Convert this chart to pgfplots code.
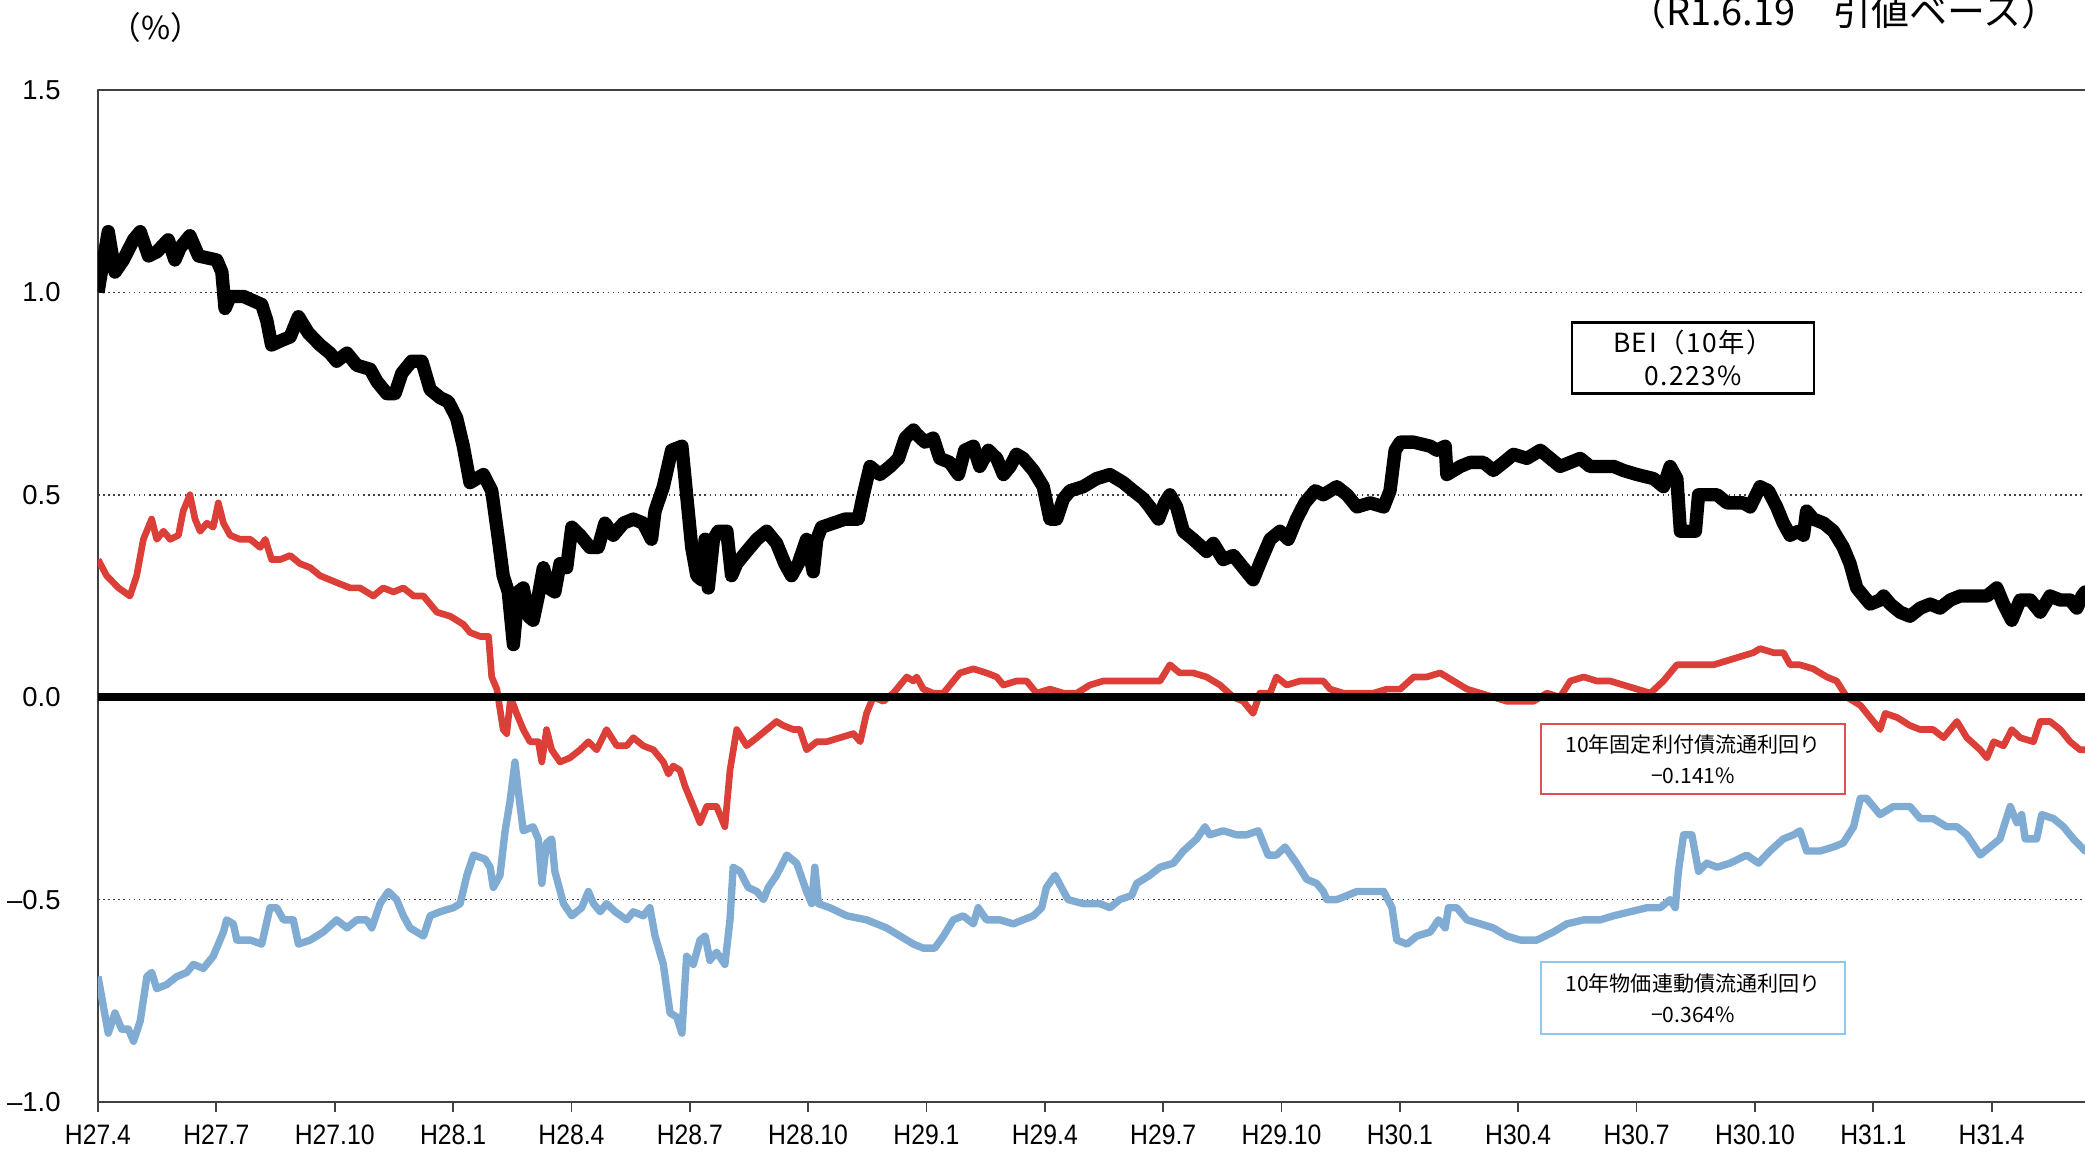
\documentclass[border=0pt]{standalone}
\usepackage{fontspec}
\usepackage{pgfplots}
\pgfplotsset{compat=1.18}
\setmainfont{Liberation Sans}
\newfontfamily\narrow[FakeStretch=0.88]{Liberation Sans}
\newfontfamily\jp{Noto Sans CJK JP}
\newfontfamily\jpw[LetterSpace=6]{Noto Sans CJK JP}
\definecolor{redl}{RGB}{220,62,56}
\definecolor{bluel}{RGB}{128,172,212}
\definecolor{boxred}{RGB}{222,80,80}
\definecolor{boxblue}{RGB}{140,200,240}
\begin{document}
\begin{tikzpicture}
\useasboundingbox (-9.8mm,-5mm) rectangle (198.7mm,110.2mm);
\begin{axis}[
  at={(0,0)}, anchor=south west,
  scale only axis, width=201.2mm, height=101.2mm,
  xmin=0, xmax=51, ymin=-1, ymax=1.5,
  xtick={0,3,...,48},
  xticklabels={H27.4,H27.7,H27.10,H28.1,H28.4,H28.7,H28.10,H29.1,H29.4,H29.7,H29.10,H30.1,H30.4,H30.7,H30.10,H31.1,H31.4},
  xtick pos=bottom,
  ytick={-1,-0.5,0,0.5,1,1.5},
  yticklabels={\textendash1.0,\textendash0.5,0.0,0.5,1.0,1.5},
  ymajorgrids,
  major grid style={black!75, line width=0.45pt, densely dotted},
  axis line style={gray!50!black, line width=0.6pt},
  tick align=outside,
  major tick length=1mm,
  ytick style={draw=none},
  xtick style={gray!50!black, line width=0.5pt},
  yticklabel style={font=\fontsize{7.8}{9}\selectfont, xshift=-1.5mm},
  xticklabel style={font=\narrow\fontsize{8}{9}\selectfont, yshift=-0.9mm, inner sep=1pt},
  line join=round,
]
% 10-year inflation-indexed bond yield
\addplot[bluel, line width=2.1pt] coordinates {
(0.00,-0.69) (0.13,-0.76) (0.26,-0.83) (0.43,-0.78) (0.60,-0.82) (0.77,-0.82) (0.90,-0.85) (1.07,-0.80) (1.24,-0.69) (1.36,-0.68) (1.49,-0.72) (1.74,-0.71) (2.00,-0.69) (2.25,-0.68) (2.42,-0.66) (2.67,-0.67) (2.92,-0.64) (3.05,-0.61) (3.18,-0.58) (3.26,-0.55) (3.43,-0.56) (3.52,-0.60) (3.86,-0.60) (4.15,-0.61) (4.36,-0.52) (4.53,-0.52) (4.70,-0.55) (4.95,-0.55) (5.08,-0.61) (5.38,-0.60) (5.71,-0.58) (6.05,-0.55) (6.31,-0.57) (6.56,-0.55) (6.81,-0.55) (6.94,-0.57) (7.15,-0.51) (7.36,-0.48) (7.57,-0.50) (7.74,-0.54) (7.91,-0.57) (8.25,-0.59) (8.42,-0.54) (8.67,-0.53) (9.01,-0.52) (9.18,-0.51) (9.35,-0.44) (9.52,-0.39) (9.81,-0.40) (9.94,-0.42) (10.02,-0.47) (10.19,-0.44) (10.32,-0.33) (10.44,-0.26) (10.57,-0.16) (10.65,-0.23) (10.78,-0.33) (11.03,-0.32) (11.16,-0.35) (11.25,-0.46) (11.37,-0.36) (11.50,-0.35) (11.58,-0.43) (11.80,-0.51) (12.01,-0.54) (12.26,-0.52) (12.43,-0.48) (12.56,-0.51) (12.73,-0.53) (12.89,-0.51) (13.11,-0.53) (13.40,-0.55) (13.57,-0.53) (13.82,-0.54) (13.99,-0.52) (14.12,-0.59) (14.33,-0.66) (14.50,-0.78) (14.67,-0.79) (14.80,-0.83) (14.92,-0.64) (15.09,-0.66) (15.26,-0.60) (15.39,-0.59) (15.51,-0.65) (15.68,-0.63) (15.89,-0.66) (16.02,-0.55) (16.10,-0.42) (16.27,-0.43) (16.48,-0.47) (16.70,-0.48) (16.87,-0.50) (16.99,-0.47) (17.20,-0.44) (17.46,-0.39) (17.71,-0.41) (17.96,-0.48) (18.09,-0.51) (18.17,-0.42) (18.26,-0.51) (18.55,-0.52) (18.98,-0.54) (19.48,-0.55) (19.99,-0.57) (20.33,-0.59) (20.67,-0.61) (20.92,-0.62) (21.21,-0.62) (21.43,-0.59) (21.68,-0.55) (21.93,-0.54) (22.19,-0.56) (22.31,-0.52) (22.52,-0.55) (22.86,-0.55) (23.20,-0.56) (23.45,-0.55) (23.71,-0.54) (23.92,-0.52) (24.04,-0.47) (24.26,-0.44) (24.42,-0.47) (24.59,-0.50) (24.97,-0.51) (25.40,-0.51) (25.65,-0.52) (25.90,-0.50) (26.20,-0.49) (26.33,-0.46) (26.66,-0.44) (26.92,-0.42) (27.26,-0.41) (27.51,-0.38) (27.85,-0.35) (28.06,-0.32) (28.18,-0.34) (28.52,-0.33) (28.86,-0.34) (29.11,-0.34) (29.41,-0.33) (29.66,-0.39) (29.87,-0.39) (30.09,-0.37) (30.38,-0.41) (30.64,-0.45) (30.89,-0.46) (31.06,-0.48) (31.15,-0.50) (31.40,-0.50) (31.66,-0.49) (31.91,-0.48) (32.25,-0.48) (32.59,-0.48) (32.80,-0.52) (32.92,-0.60) (33.18,-0.61) (33.43,-0.59) (33.77,-0.58) (33.98,-0.55) (34.15,-0.57) (34.23,-0.52) (34.44,-0.52) (34.70,-0.55) (35.04,-0.56) (35.37,-0.57) (35.71,-0.59) (36.05,-0.60) (36.47,-0.60) (36.89,-0.58) (37.23,-0.56) (37.66,-0.55) (38.08,-0.55) (38.42,-0.54) (38.84,-0.53) (39.26,-0.52) (39.60,-0.52) (39.85,-0.50) (39.98,-0.52) (40.06,-0.43) (40.19,-0.34) (40.40,-0.34) (40.57,-0.43) (40.78,-0.41) (41.04,-0.42) (41.37,-0.41) (41.79,-0.39) (42.09,-0.41) (42.38,-0.38) (42.72,-0.35) (42.98,-0.34) (43.14,-0.33) (43.31,-0.38) (43.65,-0.38) (43.99,-0.37) (44.24,-0.36) (44.50,-0.32) (44.67,-0.25) (44.83,-0.25) (45.17,-0.29) (45.51,-0.27) (45.93,-0.27) (46.19,-0.30) (46.52,-0.30) (46.86,-0.32) (47.12,-0.32) (47.37,-0.34) (47.71,-0.39) (47.96,-0.37) (48.21,-0.35) (48.47,-0.27) (48.64,-0.31) (48.76,-0.29) (48.85,-0.35) (49.14,-0.35) (49.27,-0.29) (49.57,-0.30) (49.82,-0.32) (50.07,-0.35) (50.37,-0.38) (50.60,-0.36)
};
% 10-year fixed-rate bond yield
\addplot[redl, line width=1.9pt] coordinates {
(0.00,0.34) (0.22,0.30) (0.52,0.27) (0.81,0.25) (0.98,0.30) (1.15,0.39) (1.36,0.44) (1.49,0.39) (1.66,0.41) (1.83,0.39) (2.04,0.40) (2.16,0.46) (2.33,0.50) (2.46,0.44) (2.59,0.41) (2.76,0.43) (2.92,0.42) (3.05,0.48) (3.18,0.43) (3.35,0.40) (3.60,0.39) (3.86,0.39) (4.11,0.37) (4.24,0.39) (4.40,0.34) (4.62,0.34) (4.87,0.35) (5.12,0.33) (5.38,0.32) (5.63,0.30) (5.88,0.29) (6.13,0.28) (6.39,0.27) (6.64,0.27) (6.98,0.25) (7.23,0.27) (7.49,0.26) (7.74,0.27) (8.00,0.25) (8.25,0.25) (8.59,0.21) (8.93,0.20) (9.26,0.18) (9.43,0.16) (9.69,0.15) (9.90,0.15) (9.98,0.05) (10.11,0.02) (10.27,-0.08) (10.36,-0.09) (10.46,0.00) (10.61,-0.04) (10.78,-0.08) (10.95,-0.11) (11.16,-0.11) (11.25,-0.16) (11.37,-0.08) (11.50,-0.13) (11.71,-0.16) (11.96,-0.15) (12.22,-0.13) (12.43,-0.11) (12.64,-0.13) (12.89,-0.08) (13.15,-0.12) (13.40,-0.12) (13.57,-0.10) (13.82,-0.12) (14.08,-0.13) (14.33,-0.16) (14.46,-0.19) (14.58,-0.17) (14.75,-0.18) (14.88,-0.22) (15.05,-0.26) (15.26,-0.31) (15.43,-0.27) (15.68,-0.27) (15.89,-0.32) (16.02,-0.18) (16.19,-0.08) (16.44,-0.12) (16.70,-0.10) (16.95,-0.08) (17.20,-0.06) (17.37,-0.07) (17.63,-0.08) (17.79,-0.08) (17.96,-0.13) (18.22,-0.11) (18.47,-0.11) (18.81,-0.10) (19.15,-0.09) (19.32,-0.11) (19.48,-0.04) (19.65,0.00) (19.91,-0.01) (20.16,0.01) (20.50,0.05) (20.67,0.04) (20.75,0.05) (20.92,0.02) (21.17,0.01) (21.43,0.01) (21.68,0.04) (21.85,0.06) (22.19,0.07) (22.52,0.06) (22.78,0.05) (22.95,0.03) (23.28,0.04) (23.54,0.04) (23.79,0.01) (24.13,0.02) (24.47,0.01) (24.81,0.01) (25.14,0.03) (25.48,0.04) (25.82,0.04) (26.16,0.04) (26.50,0.04) (26.92,0.04) (27.17,0.08) (27.42,0.06) (27.76,0.06) (28.10,0.05) (28.44,0.03) (28.78,0.00) (29.03,-0.01) (29.28,-0.04) (29.45,0.01) (29.71,0.01) (29.87,0.05) (30.13,0.03) (30.47,0.04) (30.80,0.04) (31.06,0.04) (31.23,0.02) (31.57,0.01) (31.91,0.01) (32.33,0.01) (32.67,0.02) (33.01,0.02) (33.35,0.05) (33.68,0.05) (34.02,0.06) (34.36,0.04) (34.70,0.02) (35.04,0.01) (35.37,0.00) (35.71,-0.01) (36.05,-0.01) (36.39,-0.01) (36.73,0.01) (37.06,0.00) (37.32,0.04) (37.66,0.05) (37.99,0.04) (38.33,0.04) (38.67,0.03) (39.01,0.02) (39.35,0.01) (39.68,0.04) (39.85,0.06) (40.02,0.08) (40.27,0.08) (40.61,0.08) (40.95,0.08) (41.29,0.09) (41.62,0.10) (41.96,0.11) (42.13,0.12) (42.47,0.11) (42.72,0.11) (42.89,0.08) (43.14,0.08) (43.48,0.07) (43.82,0.05) (44.07,0.04) (44.33,0.00) (44.67,-0.02) (44.92,-0.05) (45.17,-0.08) (45.30,-0.04) (45.60,-0.05) (45.93,-0.07) (46.19,-0.08) (46.52,-0.08) (46.78,-0.10) (47.12,-0.06) (47.37,-0.10) (47.71,-0.13) (47.88,-0.15) (48.05,-0.11) (48.30,-0.12) (48.51,-0.08) (48.72,-0.10) (49.06,-0.11) (49.23,-0.06) (49.48,-0.06) (49.74,-0.08) (49.99,-0.11) (50.24,-0.13) (50.37,-0.13) (50.60,-0.14)
};
% zero line
\addplot[black, line width=2.4pt] coordinates {(0,0) (51,0)};
% BEI (10y)
\addplot[black, line width=3.8pt] coordinates {
(0.00,1.00) (0.05,1.03) (0.26,1.15) (0.43,1.05) (0.64,1.08) (0.90,1.13) (1.07,1.15) (1.28,1.09) (1.49,1.10) (1.78,1.13) (1.95,1.08) (2.08,1.11) (2.33,1.14) (2.55,1.09) (3.01,1.08) (3.14,1.05) (3.22,0.96) (3.35,0.99) (3.69,0.99) (4.15,0.97) (4.28,0.93) (4.40,0.87) (4.62,0.88) (4.87,0.89) (5.08,0.94) (5.33,0.90) (5.63,0.87) (5.88,0.85) (6.05,0.83) (6.31,0.85) (6.56,0.82) (6.90,0.81) (7.07,0.78) (7.32,0.75) (7.53,0.75) (7.70,0.80) (7.95,0.83) (8.21,0.83) (8.42,0.76) (8.67,0.74) (8.88,0.73) (9.09,0.69) (9.26,0.62) (9.43,0.53) (9.77,0.55) (9.98,0.51) (10.15,0.39) (10.27,0.30) (10.40,0.26) (10.53,0.13) (10.65,0.26) (10.78,0.27) (10.91,0.20) (11.03,0.19) (11.16,0.25) (11.29,0.32) (11.42,0.27) (11.58,0.26) (11.71,0.33) (11.88,0.32) (12.01,0.42) (12.22,0.40) (12.47,0.37) (12.68,0.37) (12.85,0.43) (13.06,0.40) (13.32,0.43) (13.57,0.44) (13.82,0.43) (14.03,0.39) (14.12,0.46) (14.33,0.52) (14.54,0.61) (14.80,0.62) (14.92,0.50) (15.05,0.37) (15.18,0.30) (15.30,0.29) (15.39,0.39) (15.47,0.27) (15.60,0.39) (15.72,0.41) (15.94,0.41) (16.06,0.30) (16.19,0.33) (16.44,0.36) (16.70,0.39) (16.95,0.41) (17.20,0.38) (17.41,0.33) (17.58,0.30) (17.75,0.33) (17.96,0.39) (18.13,0.31) (18.22,0.39) (18.34,0.42) (18.64,0.43) (18.94,0.44) (19.27,0.44) (19.40,0.50) (19.57,0.57) (19.82,0.55) (20.08,0.57) (20.29,0.59) (20.46,0.64) (20.67,0.66) (20.75,0.65) (20.96,0.63) (21.17,0.64) (21.34,0.59) (21.59,0.58) (21.81,0.55) (21.97,0.61) (22.19,0.62) (22.35,0.57) (22.57,0.61) (22.78,0.59) (22.95,0.55) (23.12,0.57) (23.28,0.60) (23.45,0.59) (23.71,0.56) (23.96,0.52) (24.13,0.44) (24.30,0.44) (24.47,0.49) (24.64,0.51) (24.97,0.52) (25.31,0.54) (25.65,0.55) (25.99,0.53) (26.24,0.51) (26.50,0.49) (26.66,0.47) (26.88,0.44) (27.04,0.48) (27.17,0.50) (27.34,0.47) (27.51,0.41) (27.76,0.39) (28.10,0.36) (28.27,0.38) (28.52,0.34) (28.78,0.35) (29.03,0.32) (29.28,0.29) (29.49,0.34) (29.71,0.39) (29.96,0.41) (30.17,0.39) (30.38,0.44) (30.59,0.48) (30.85,0.51) (31.06,0.50) (31.40,0.52) (31.66,0.50) (31.91,0.47) (32.25,0.48) (32.59,0.47) (32.75,0.51) (32.88,0.61) (33.01,0.63) (33.35,0.63) (33.77,0.62) (33.94,0.61) (34.15,0.62) (34.19,0.55) (34.53,0.57) (34.78,0.58) (35.12,0.58) (35.37,0.56) (35.63,0.58) (35.88,0.60) (36.22,0.59) (36.56,0.61) (36.81,0.59) (37.06,0.57) (37.32,0.58) (37.57,0.59) (37.82,0.57) (38.16,0.57) (38.42,0.57) (38.67,0.56) (39.01,0.55) (39.43,0.54) (39.68,0.52) (39.85,0.57) (40.02,0.54) (40.11,0.41) (40.27,0.41) (40.49,0.41) (40.57,0.50) (40.78,0.50) (41.04,0.50) (41.29,0.48) (41.71,0.48) (41.88,0.47) (42.13,0.52) (42.34,0.51) (42.55,0.47) (42.72,0.43) (42.89,0.40) (43.10,0.41) (43.23,0.40) (43.31,0.46) (43.48,0.44) (43.74,0.43) (43.99,0.41) (44.24,0.37) (44.41,0.33) (44.58,0.27) (44.75,0.25) (44.92,0.23) (45.17,0.24) (45.26,0.25) (45.43,0.23) (45.68,0.21) (45.93,0.20) (46.19,0.22) (46.44,0.23) (46.69,0.22) (46.95,0.24) (47.20,0.25) (47.54,0.25) (47.88,0.25) (48.13,0.27) (48.30,0.23) (48.51,0.19) (48.72,0.24) (48.98,0.24) (49.23,0.21) (49.48,0.25) (49.74,0.24) (49.99,0.24) (50.16,0.22) (50.29,0.25) (50.37,0.26) (50.60,0.22)
};
\end{axis}
\node[font=\jp\fontsize{9}{11}\selectfont, inner sep=0pt] at (5.8mm,107.5mm) {（\%）};
\node[anchor=base east, font=\jp\fontsize{10.8}{12}\selectfont, inner sep=0pt] at (196.2mm,107.6mm) {（R1.6.19　引値ベース）};
\node[draw=black, line width=0.8pt, fill=white, minimum width=24.2mm, minimum height=7.1mm, align=center, inner sep=0pt, font=\jpw\fontsize{7.5}{9.5}\selectfont] at (159.5mm,74.4mm) {BEI（10年）\\0.223\%};
\node[draw=boxred, line width=0.6pt, fill=white, minimum width=30.4mm, minimum height=7mm, align=center, inner sep=0pt, font=\jp\fontsize{6.0}{8.7}\selectfont] at (159.5mm,34.3mm) {10年固定利付債流通利回り\\−0.141\%};
\node[draw=boxblue, line width=0.8pt, fill=white, minimum width=30.4mm, minimum height=7.2mm, align=center, inner sep=0pt, font=\jp\fontsize{6.0}{8.7}\selectfont] at (159.5mm,10.4mm) {10年物価連動債流通利回り\\−0.364\%};
\end{tikzpicture}
\end{document}
